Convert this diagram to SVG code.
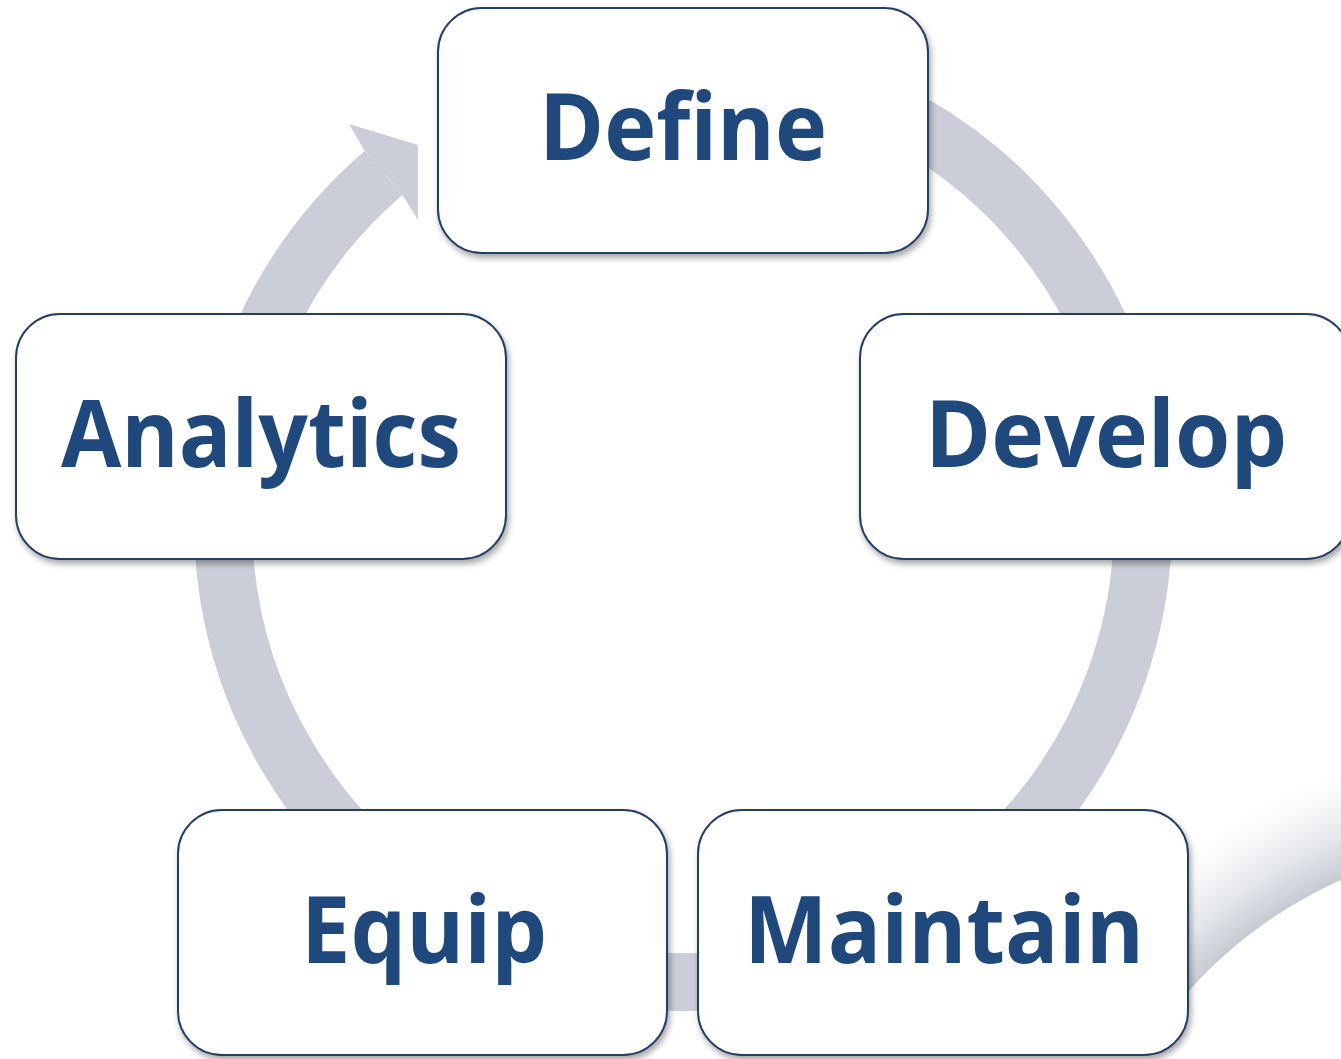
<svg xmlns="http://www.w3.org/2000/svg" width="1341" height="1059" viewBox="0 0 1341 1059">
  <defs>
    <filter id="shadow" x="-10%" y="-10%" width="120%" height="130%">
      <feDropShadow dx="2" dy="4" stdDeviation="3" flood-color="#000" flood-opacity="0.35"/>
    </filter>
    <radialGradient id="deco" gradientUnits="userSpaceOnUse" cx="1527" cy="1294" r="555">
      <stop offset="0.818" stop-color="#c6cbd3"/>
      <stop offset="0.89" stop-color="#e4e7eb"/>
      <stop offset="0.96" stop-color="#f8f9fa"/>
      <stop offset="1" stop-color="#ffffff"/>
    </radialGradient>
    <style>
      .box { fill: #ffffff; stroke: #243f66; stroke-width: 2; filter: url(#shadow); }
      .lbl { font-family: "Open Sans", "Noto Sans", "Liberation Sans", sans-serif; font-weight: 700; font-size: 94px; fill: #1f497d; text-anchor: middle; }
      .ring { fill: none; stroke: #cbced8; stroke-width: 58; }
      .head { fill: #cbced8; }
    </style>
  </defs>
  <rect width="1341" height="1059" fill="#ffffff"/>

  <path d="M1186,994 A454,454 0 0 1 1341,880 L1341,740 L1186,740 Z" fill="url(#deco)"/>

  <g id="connectors">
    <path class="ring" d="M723.1,63.8 A460,460 0 1 1 383.5,172.9"/>
    <polygon class="head" points="364.7,150.9 349,124 418,145 418,220 402.4,194.9"/>
  </g>

  <g id="node-define">
    <rect class="box" x="438" y="8" width="490" height="245" rx="44"/>
    <text class="lbl" x="683" y="160" textLength="288" lengthAdjust="spacingAndGlyphs">Define</text>
  </g>
  <g id="node-develop">
    <rect class="box" x="860" y="314" width="490" height="245" rx="44"/>
    <text class="lbl" x="1106" y="467" textLength="362" lengthAdjust="spacingAndGlyphs">Develop</text>
  </g>
  <g id="node-maintain">
    <rect class="box" x="698" y="810" width="490" height="245" rx="44"/>
    <text class="lbl" x="944" y="963" textLength="400" lengthAdjust="spacingAndGlyphs">Maintain</text>
  </g>
  <g id="node-equip">
    <rect class="box" x="178" y="810" width="489" height="245" rx="44"/>
    <text class="lbl" x="424" y="963" textLength="246" lengthAdjust="spacingAndGlyphs">Equip</text>
  </g>
  <g id="node-analytics">
    <rect class="box" x="16" y="314" width="490" height="245" rx="44"/>
    <text class="lbl" x="261" y="467" textLength="400" lengthAdjust="spacingAndGlyphs">Analytics</text>
  </g>
</svg>
